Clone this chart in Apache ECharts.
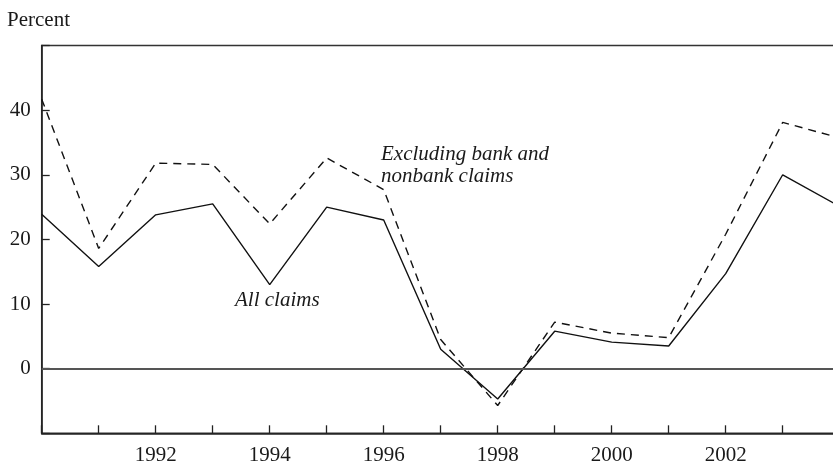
<!DOCTYPE html>
<html>
<head>
<meta charset="utf-8">
<script src="https://cdn.jsdelivr.net/npm/echarts@6/dist/echarts.min.js"></script>
<style>
  html, body { margin: 0; padding: 0; background: #fff; }
  #chart { width: 833px; height: 466px; }
</style>
</head>
<body>
<div id="chart"></div>
<script>
// years on the x axis (last one sits just past the right edge)
const years = [1990, 1991, 1992, 1993, 1994, 1995, 1996, 1997, 1998, 1999, 2000, 2001, 2002, 2003, 2004];
// all claims, percent
const allClaims = [23.9, 15.8, 23.8, 25.5, 13.0, 25.0, 23.0, 3.0, -4.7, 5.8, 4.1, 3.5, 14.7, 30.0, 25.1];
// excluding bank and nonbank claims, percent
const exclBankNonbank = [41.7, 18.6, 31.8, 31.6, 22.4, 32.6, 27.7, 4.5, -5.7, 7.2, 5.5, 4.8, 20.8, 38.1, 35.7];
// labelled x ticks and y ticks
const xTickLabels = [1992, 1994, 1996, 1998, 2000, 2002];
const yTickLabels = [0, 10, 20, 30, 40];

const font = '"Liberation Serif", "DejaVu Serif", serif';
const ink = '#1a1a1a';

const chart = echarts.init(document.getElementById('chart'));

const option = {
  animation: false,
  backgroundColor: '#fff',
  textStyle: { fontFamily: font, color: ink },
  grid: {
    left: 41.7,
    width: 798,   // runs a little past the right edge, as in the source
    top: 45.5,
    bottom: 32.7,
    outerBoundsMode: 'none',
    show: true,
    borderColor: '#333',
    borderWidth: 1.5
  },
  xAxis: {
    type: 'value',
    min: 1990,
    max: 2004,
    interval: 1,
    axisLine: { show: true, onZero: false, lineStyle: { color: '#222', width: 1.5 } },
    axisTick: { show: true, inside: true, length: 8, lineStyle: { color: '#222', width: 1.3 } },
    axisLabel: {
      margin: 12,
      fontFamily: font,
      fontSize: 21,
      color: ink,
      formatter: v => (xTickLabels.includes(v) ? String(v) : '')
    },
    splitLine: { show: false }
  },
  yAxis: {
    type: 'value',
    min: -10,
    max: 50,
    interval: 10,
    axisLine: { show: true, lineStyle: { color: '#222', width: 1.5 } },
    axisTick: { show: true, inside: true, length: 8, lineStyle: { color: '#222', width: 1.3 } },
    axisLabel: {
      margin: 11,
      fontFamily: font,
      fontSize: 21,
      color: ink,
      formatter: v => (yTickLabels.includes(v) ? String(v) : '')
    },
    splitLine: { show: false }
  },
  series: [
    {
      name: 'All claims',
      type: 'line',
      data: years.map((y, i) => [y, allClaims[i]]),
      showSymbol: false,
      lineStyle: { color: '#111', width: 1.4, type: 'solid' },
      markLine: {
        silent: true,
        symbol: 'none',
        label: { show: false },
        lineStyle: { color: '#555', width: 1.8, type: 'solid' },
        data: [{ yAxis: 0 }]
      }
    },
    {
      name: 'Excluding bank and nonbank claims',
      type: 'line',
      data: years.map((y, i) => [y, exclBankNonbank[i]]),
      showSymbol: false,
      lineStyle: { color: '#111', width: 1.4, type: [8, 6] }
    }
  ],
  graphic: [
    {
      type: 'text',
      left: 7,
      top: 10,
      style: { text: 'Percent', font: '21px ' + font, fill: ink }
    },
    {
      type: 'text',
      left: 381,
      top: 143,
      style: {
        text: 'Excluding bank and\nnonbank claims',
        font: 'italic 21px ' + font,
        lineHeight: 22,
        fill: ink
      }
    },
    {
      type: 'text',
      left: 235,
      top: 290,
      style: { text: 'All claims', font: 'italic 21px ' + font, fill: ink }
    }
  ]
};

chart.setOption(option);
</script>
</body>
</html>
